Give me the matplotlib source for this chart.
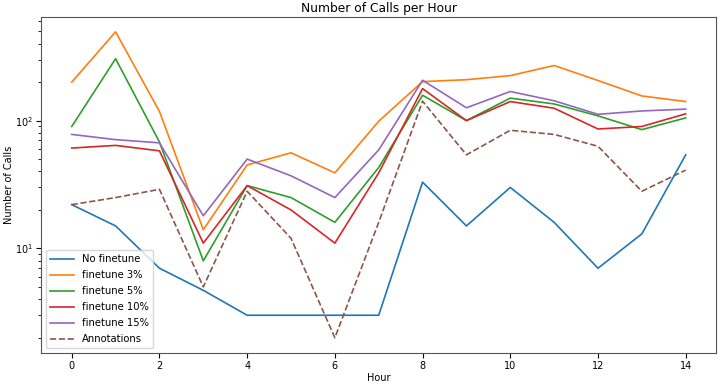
import matplotlib.pyplot as plt

hours = list(range(15))
no_finetune = [22, 15, 7, 4.7, 3, 3, 3, 3, 33, 15, 30, 16, 7, 13, 54]
finetune_3 = [200, 495, 118, 14, 45, 56, 39, 99, 202, 209, 225, 270, 206, 156, 141]
finetune_5 = [90, 305, 68, 8, 31, 25, 16, 43, 158, 100, 150, 135, 109, 85, 105]
finetune_10 = [61, 64, 58, 11, 31, 20, 11, 39, 178, 100, 141, 125, 86, 90, 113]
finetune_15 = [78, 71, 67, 18, 50, 37, 25, 59, 207, 126, 169, 143, 112, 119, 123]
annotations = [22, 25, 29, 5, 28, 12, 2, 16, 142, 54, 84, 78, 63, 28, 41]

fig, ax = plt.subplots(figsize=(7.2, 3.85), dpi=100)
lw = 1.2
ax.plot(hours, no_finetune, lw=lw, label="No finetune")
ax.plot(hours, finetune_3, lw=lw, label="finetune 3%")
ax.plot(hours, finetune_5, lw=lw, label="finetune 5%")
ax.plot(hours, finetune_10, lw=lw, label="finetune 10%")
ax.plot(hours, finetune_15, lw=lw, label="finetune 15%")
ax.plot(hours, annotations, "--", lw=lw, label="Annotations")
ax.set_yscale("log")
ax.set_title("Number of Calls per Hour", fontsize=8.8, pad=3)
ax.set_xlabel("Hour", fontsize=7, labelpad=2)
ax.set_ylabel("Number of Calls", fontsize=7, labelpad=1)
ax.tick_params(labelsize=7, pad=2)
for s in ax.spines.values():
    s.set_color("#555555")
ax.legend(loc="lower left", fontsize=7.2, handlelength=2.4, labelspacing=0.6)
plt.subplots_adjust(left=0.057, right=0.995, top=0.957, bottom=0.083)
plt.savefig("out.png", dpi=100)
